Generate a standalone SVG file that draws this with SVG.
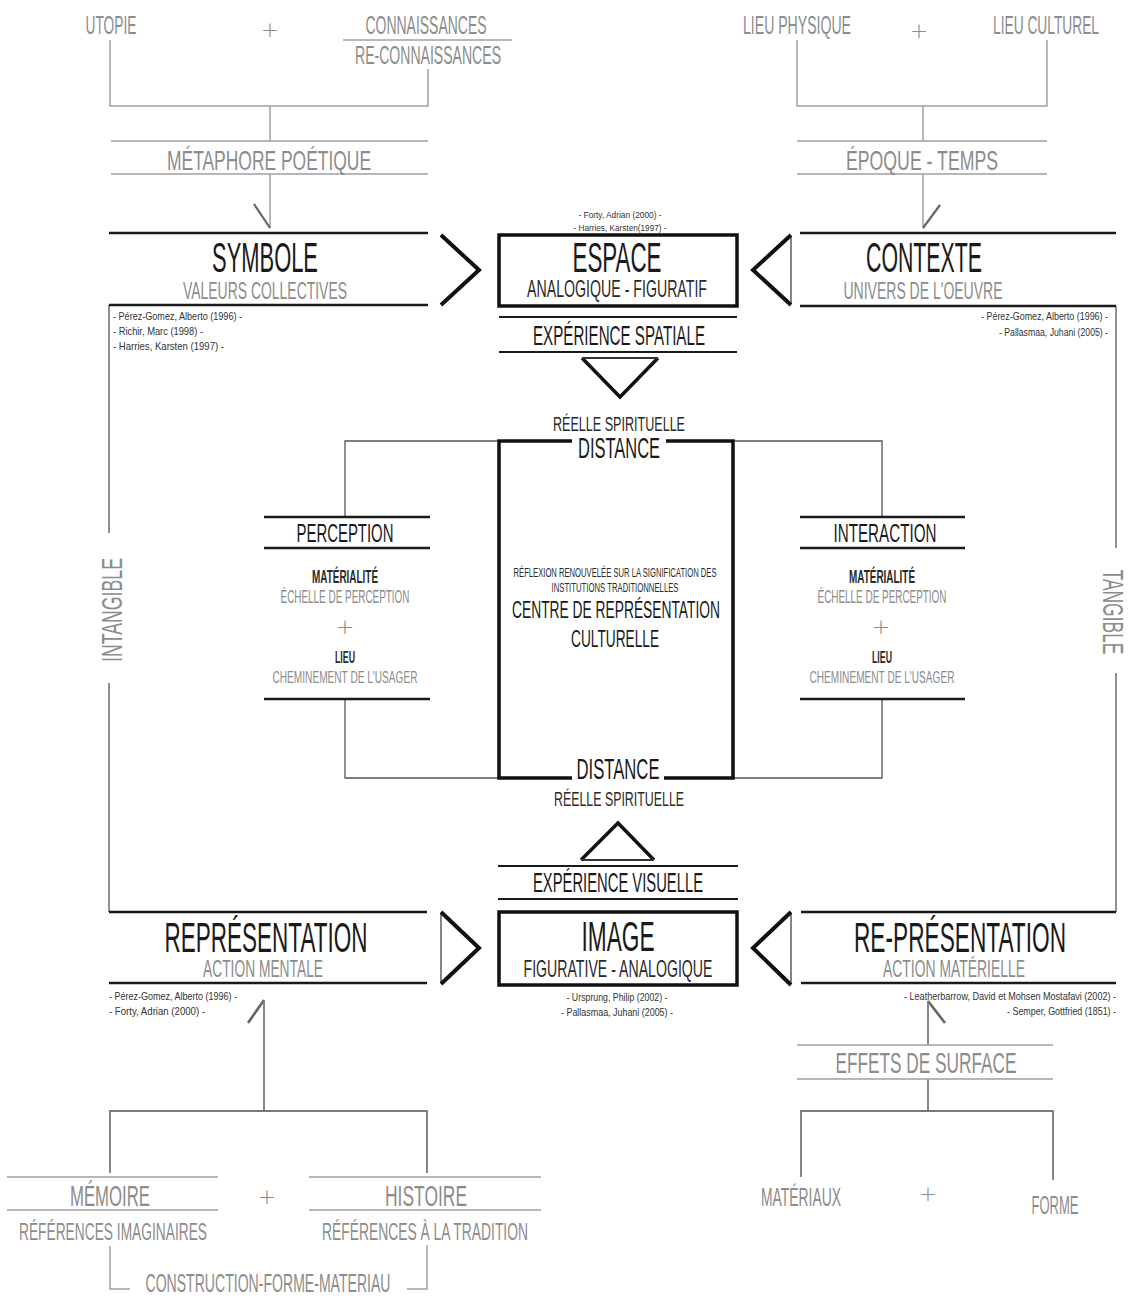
<svg xmlns="http://www.w3.org/2000/svg" width="1128" height="1298" viewBox="0 0 1128 1298">
<style>
text{font-family:"Liberation Sans","DejaVu Sans",sans-serif;text-anchor:middle}
.g{fill:#8c8c8c}
.k{fill:#1a1a1a}
.d{fill:#2a2a2a}
.ref{fill:#333;font-size:11px}
.l{text-anchor:start}
.r{text-anchor:end}
.plus{font-family:"DejaVu Sans",sans-serif;font-weight:200;fill:#8c8c8c;font-size:22px}
.cg{fill:none;stroke:#a0a0a0;stroke-width:1.5}
.cm{fill:none;stroke:#7a7a7a;stroke-width:1.8}
.cd{fill:none;stroke:#555;stroke-width:1.3}
.ar{fill:none;stroke:#666;stroke-width:2.2}
.bk{fill:none;stroke:#1a1a1a;stroke-width:2.5}
.bx{fill:none;stroke:#111;stroke-width:3.5}
.ch{fill:none;stroke:#111;stroke-width:4;stroke-linejoin:miter}
.tn{fill:none;stroke:#333;stroke-width:1.2}
</style>
<rect width="1128" height="1298" fill="#fff"/>

<g id="connectors">
  <path class="cg" d="M343,40 H512"/>
  <path class="cg" d="M110,40 V106 H428 V69"/>
  <path class="cg" d="M270,106 V141"/>
  <path class="cg" d="M270,174 V228"/>
  <path class="ar" d="M254,204 L270,228"/>
  <path class="cg" d="M797,40 V106 H1047 V40"/>
  <path class="cg" d="M923,106 V141"/>
  <path class="cg" d="M923,174 V228"/>
  <path class="ar" d="M940,205 L923,228"/>
  <path class="cd" d="M109,305 V533 M109,683 V912"/>
  <path class="cd" d="M1116,306 V548 M1116,673 V912"/>
  <path class="ch" d="M441,235 L479,270 L441,305"/>
  <path class="ch" d="M791,235 L753,270 L791,305"/>
  <path class="tn" d="M791,237 V303"/>
  <path class="ch" d="M441,912 L479,948 L441,984"/>
  <path class="tn" d="M441,914 V982"/>
  <path class="ch" d="M791,912 L753,948 L791,985"/>
  <path class="tn" d="M791,914 V983"/>
  <path class="ch" d="M582,358 L620,397 L658,358" style="stroke-width:3.5"/>
  <path class="tn" d="M582,358 H658" style="stroke-width:1.8"/>
  <path class="ch" d="M581,860 L618,823 L654,860" style="stroke-width:3.5"/>
  <path class="tn" d="M581,860 H654" style="stroke-width:1.8"/>
  <path class="cd" d="M345,517 V441 H499"/>
  <path class="cd" d="M882,517 V441 H733"/>
  <path class="cd" d="M345,699 V778 H499"/>
  <path class="cd" d="M882,699 V778 H733"/>
  <path class="ar" d="M248,1023 L264,1000" style="stroke-width:2.6"/>
  <path class="cm" d="M264,1000 V1111"/>
  <path class="cm" d="M110,1173 V1111 H427 V1173"/>
  <path class="cg" d="M110,1246 V1289 H130 M407,1289 H427 V1245"/>
  <path class="ar" d="M945,1023 L928,1001" style="stroke-width:2.6"/>
  <path class="cm" d="M928,1001 V1045"/>
  <path class="cm" d="M928,1079 V1111"/>
  <path class="cm" d="M801,1177 V1111 H1053 V1180"/>
</g>

<g id="utopie"><text class="g" transform="translate(111,34) scale(0.55,1)" font-size="25" textLength="92.7" lengthAdjust="spacingAndGlyphs">UTOPIE</text></g>
<g id="plus-top-left"><text class="plus" x="270" y="37">+</text></g>
<g id="connaissances">
  <text class="g" transform="translate(426,34) scale(0.55,1)" font-size="25" textLength="220" lengthAdjust="spacingAndGlyphs">CONNAISSANCES</text>
  <text class="g" transform="translate(428,64) scale(0.55,1)" font-size="25" textLength="265.5" lengthAdjust="spacingAndGlyphs">RE-CONNAISSANCES</text>
</g>
<g id="metaphore">
  <path class="cg" d="M111,141 H428 M111,174 H428"/>
  <text class="g" transform="translate(269,170) scale(0.55,1)" font-size="27.5" textLength="371" lengthAdjust="spacingAndGlyphs">MÉTAPHORE POÉTIQUE</text>
</g>
<g id="lieu-physique"><text class="g" transform="translate(797,34) scale(0.55,1)" font-size="25" textLength="196.4" lengthAdjust="spacingAndGlyphs">LIEU PHYSIQUE</text></g>
<g id="plus-top-right"><text class="plus" x="919" y="38">+</text></g>
<g id="lieu-culturel"><text class="g" transform="translate(1046,34) scale(0.55,1)" font-size="25" textLength="192.7" lengthAdjust="spacingAndGlyphs">LIEU CULTUREL</text></g>
<g id="epoque">
  <path class="cg" d="M797,141 H1047 M797,174 H1047"/>
  <text class="g" transform="translate(922,170) scale(0.55,1)" font-size="27.5" textLength="276.4" lengthAdjust="spacingAndGlyphs">ÉPOQUE - TEMPS</text>
</g>

<g id="symbole">
  <path class="bk" d="M109,233 H428 M109,305 H428"/>
  <text class="k" transform="translate(265,272) scale(0.55,1)" font-size="42" textLength="192.7" lengthAdjust="spacingAndGlyphs">SYMBOLE</text>
  <text class="g" transform="translate(265,299) scale(0.55,1)" font-size="24" textLength="298.2" lengthAdjust="spacingAndGlyphs">VALEURS COLLECTIVES</text>
  <text class="ref l" transform="translate(113,320) scale(0.75,1)" textLength="172" lengthAdjust="spacingAndGlyphs">- Pérez-Gomez, Alberto (1996) -</text>
  <text class="ref l" transform="translate(113,335) scale(0.75,1)" textLength="120" lengthAdjust="spacingAndGlyphs">- Richir, Marc (1998) -</text>
  <text class="ref l" transform="translate(113,350) scale(0.75,1)" textLength="148" lengthAdjust="spacingAndGlyphs">- Harries, Karsten (1997) -</text>
</g>

<g id="espace">
  <text class="ref" transform="translate(620,218) scale(0.75,1)" style="font-size:9.5px" textLength="110.7" lengthAdjust="spacingAndGlyphs">- Forty, Adrian (2000) -</text>
  <text class="ref" transform="translate(620,231) scale(0.75,1)" style="font-size:9.5px" textLength="124" lengthAdjust="spacingAndGlyphs">- Harries, Karsten(1997) -</text>
  <rect class="bx" x="499" y="235" width="238" height="71"/>
  <text class="k" transform="translate(617,272) scale(0.55,1)" font-size="42" textLength="161.8" lengthAdjust="spacingAndGlyphs">ESPACE</text>
  <text class="d" transform="translate(617,297) scale(0.55,1)" font-size="24" textLength="327.3" lengthAdjust="spacingAndGlyphs">ANALOGIQUE - FIGURATIF</text>
</g>
<g id="experience-spatiale">
  <path class="bk" d="M499,317 H737 M499,352 H737" style="stroke-width:2.2"/>
  <text class="k" transform="translate(619,345) scale(0.55,1)" font-size="27.5" textLength="312.7" lengthAdjust="spacingAndGlyphs">EXPÉRIENCE SPATIALE</text>
</g>

<g id="contexte">
  <path class="bk" d="M800,233 H1116 M800,306 H1116"/>
  <text class="k" transform="translate(924,272) scale(0.55,1)" font-size="42" textLength="210.9" lengthAdjust="spacingAndGlyphs">CONTEXTE</text>
  <text class="g" transform="translate(923,299) scale(0.55,1)" font-size="24" textLength="289.1" lengthAdjust="spacingAndGlyphs">UNIVERS DE L'OEUVRE</text>
  <text class="ref r" transform="translate(1108,320) scale(0.75,1)" textLength="169.3" lengthAdjust="spacingAndGlyphs">- Pérez-Gomez, Alberto (1996) -</text>
  <text class="ref r" transform="translate(1108,336) scale(0.75,1)" textLength="145.3" lengthAdjust="spacingAndGlyphs">- Pallasmaa, Juhani (2005) -</text>
</g>

<g id="intangible"><text class="g" transform="translate(112,610) rotate(-90) scale(0.55,1)" x="0" y="10" font-size="30" textLength="189.1" lengthAdjust="spacingAndGlyphs">INTANGIBLE</text></g>
<g id="tangible"><text class="g" transform="translate(1113,612) rotate(90) scale(0.55,1)" x="0" y="10" font-size="30" textLength="154.5" lengthAdjust="spacingAndGlyphs">TANGIBLE</text></g>

<g id="centre">
  <text class="d" transform="translate(619,431) scale(0.55,1)" font-size="21" textLength="240" lengthAdjust="spacingAndGlyphs">RÉELLE SPIRITUELLE</text>
  <path class="bx" d="M572,441 H499 V778 H572 M664,778 H733 V441 H666"/>
  <text class="k" transform="translate(619,458) scale(0.55,1)" font-size="29" textLength="149.1" lengthAdjust="spacingAndGlyphs">DISTANCE</text>
  <text class="d" transform="translate(615,577) scale(0.55,1)" font-size="13" textLength="369.1" lengthAdjust="spacingAndGlyphs">RÉFLEXION RENOUVELÉE SUR LA SIGNIFICATION DES</text>
  <text class="d" transform="translate(615,592) scale(0.55,1)" font-size="13" textLength="230.9" lengthAdjust="spacingAndGlyphs">INSTITUTIONS TRADITIONNELLES</text>
  <text class="k" transform="translate(616,618) scale(0.55,1)" font-size="24" textLength="378.2" lengthAdjust="spacingAndGlyphs">CENTRE DE REPRÉSENTATION</text>
  <text class="k" transform="translate(615,647) scale(0.55,1)" font-size="24" textLength="160" lengthAdjust="spacingAndGlyphs">CULTURELLE</text>
  <text class="k" transform="translate(618,779) scale(0.55,1)" font-size="29" textLength="150.9" lengthAdjust="spacingAndGlyphs">DISTANCE</text>
  <text class="d" transform="translate(619,806) scale(0.55,1)" font-size="21" textLength="236.4" lengthAdjust="spacingAndGlyphs">RÉELLE SPIRITUELLE</text>
</g>

<g id="perception">
  <path class="bk" d="M264,517 H430 M264,548 H430 M264,699 H430"/>
  <text class="k" transform="translate(345,542) scale(0.55,1)" font-size="26" textLength="176.4" lengthAdjust="spacingAndGlyphs">PERCEPTION</text>
  <text class="d" transform="translate(345,583) scale(0.55,1)" font-size="19" font-weight="bold" textLength="120" lengthAdjust="spacingAndGlyphs">MATÉRIALITÉ</text>
  <text class="g" transform="translate(345,603) scale(0.55,1)" font-size="18" textLength="234.5" lengthAdjust="spacingAndGlyphs">ÉCHELLE DE PERCEPTION</text>
  <text class="plus" x="345" y="634">+</text>
  <text class="d" transform="translate(345,663) scale(0.55,1)" font-size="17" font-weight="bold" textLength="36.4" lengthAdjust="spacingAndGlyphs">LIEU</text>
  <text class="g" transform="translate(345,683) scale(0.55,1)" font-size="17" textLength="263.6" lengthAdjust="spacingAndGlyphs">CHEMINEMENT DE L'USAGER</text>
</g>

<g id="interaction">
  <path class="bk" d="M800,517 H965 M800,548 H965 M800,699 H965"/>
  <text class="k" transform="translate(885,542) scale(0.55,1)" font-size="26" textLength="187.3" lengthAdjust="spacingAndGlyphs">INTERACTION</text>
  <text class="d" transform="translate(882,583) scale(0.55,1)" font-size="19" font-weight="bold" textLength="120" lengthAdjust="spacingAndGlyphs">MATÉRIALITÉ</text>
  <text class="g" transform="translate(882,603) scale(0.55,1)" font-size="18" textLength="234.5" lengthAdjust="spacingAndGlyphs">ÉCHELLE DE PERCEPTION</text>
  <text class="plus" x="881" y="634">+</text>
  <text class="d" transform="translate(882,663) scale(0.55,1)" font-size="17" font-weight="bold" textLength="36.4" lengthAdjust="spacingAndGlyphs">LIEU</text>
  <text class="g" transform="translate(882,683) scale(0.55,1)" font-size="17" textLength="263.6" lengthAdjust="spacingAndGlyphs">CHEMINEMENT DE L'USAGER</text>
</g>

<g id="experience-visuelle">
  <path class="bk" d="M498,866 H738 M498,899 H738" style="stroke-width:2.2"/>
  <text class="k" transform="translate(618,892) scale(0.55,1)" font-size="27.5" textLength="309.1" lengthAdjust="spacingAndGlyphs">EXPÉRIENCE VISUELLE</text>
</g>

<g id="image">
  <rect class="bx" x="499" y="912" width="238" height="73"/>
  <text class="k" transform="translate(618,951) scale(0.55,1)" font-size="42" textLength="132.7" lengthAdjust="spacingAndGlyphs">IMAGE</text>
  <text class="d" transform="translate(618,977) scale(0.55,1)" font-size="24" textLength="343.6" lengthAdjust="spacingAndGlyphs">FIGURATIVE - ANALOGIQUE</text>
  <text class="ref" transform="translate(617,1001) scale(0.75,1)" textLength="134.7" lengthAdjust="spacingAndGlyphs">- Ursprung, Philip (2002) -</text>
  <text class="ref" transform="translate(617,1016) scale(0.75,1)" textLength="149.3" lengthAdjust="spacingAndGlyphs">- Pallasmaa, Juhani (2005) -</text>
</g>

<g id="representation">
  <path class="bk" d="M109,912 H427 M109,983 H427"/>
  <text class="k" transform="translate(266,952) scale(0.55,1)" font-size="42" textLength="369.1" lengthAdjust="spacingAndGlyphs">REPRÉSENTATION</text>
  <text class="g" transform="translate(263,977) scale(0.55,1)" font-size="24" textLength="218.2" lengthAdjust="spacingAndGlyphs">ACTION MENTALE</text>
  <text class="ref l" transform="translate(109,1000) scale(0.75,1)" textLength="170.7" lengthAdjust="spacingAndGlyphs">- Pérez-Gomez, Alberto (1996) -</text>
  <text class="ref l" transform="translate(109,1015) scale(0.75,1)" textLength="128" lengthAdjust="spacingAndGlyphs">- Forty, Adrian (2000) -</text>
</g>

<g id="re-presentation">
  <path class="bk" d="M801,912 H1116 M801,983 H1116"/>
  <text class="k" transform="translate(960,952) scale(0.55,1)" font-size="42" textLength="385.5" lengthAdjust="spacingAndGlyphs">RE-PRÉSENTATION</text>
  <text class="g" transform="translate(954,977) scale(0.55,1)" font-size="24" textLength="258.2" lengthAdjust="spacingAndGlyphs">ACTION MATÉRIELLE</text>
  <text class="ref r" transform="translate(1116,1000) scale(0.75,1)" textLength="282.7" lengthAdjust="spacingAndGlyphs">- Leatherbarrow, David et Mohsen Mostafavi (2002) -</text>
  <text class="ref r" transform="translate(1116,1015) scale(0.75,1)" textLength="145.3" lengthAdjust="spacingAndGlyphs">- Semper, Gottfried (1851) -</text>
</g>

<g id="effets">
  <path class="cg" d="M797,1045 H1053 M797,1079 H1053"/>
  <text class="g" transform="translate(926,1073) scale(0.55,1)" font-size="29" textLength="329.1" lengthAdjust="spacingAndGlyphs">EFFETS DE SURFACE</text>
</g>
<g id="materiaux"><text class="g" transform="translate(801,1206) scale(0.55,1)" font-size="25" textLength="145.5" lengthAdjust="spacingAndGlyphs">MATÉRIAUX</text></g>
<g id="plus-bottom-right"><text class="plus" x="928" y="1201">+</text></g>
<g id="forme"><text class="g" transform="translate(1055,1214) scale(0.55,1)" font-size="25" textLength="85.5" lengthAdjust="spacingAndGlyphs">FORME</text></g>

<g id="memoire">
  <path class="cg" d="M7,1177 H218 M7,1210 H218"/>
  <text class="g" transform="translate(110,1206) scale(0.55,1)" font-size="29" textLength="145.5" lengthAdjust="spacingAndGlyphs">MÉMOIRE</text>
  <text class="g" transform="translate(113,1240) scale(0.55,1)" font-size="23" textLength="341.8" lengthAdjust="spacingAndGlyphs">RÉFÉRENCES IMAGINAIRES</text>
</g>
<g id="plus-bottom-left"><text class="plus" x="267" y="1204">+</text></g>
<g id="histoire">
  <path class="cg" d="M309,1177 H541 M309,1210 H541"/>
  <text class="g" transform="translate(426,1206) scale(0.55,1)" font-size="29" textLength="149.1" lengthAdjust="spacingAndGlyphs">HISTOIRE</text>
  <text class="g" transform="translate(425,1240) scale(0.55,1)" font-size="23" textLength="374.5" lengthAdjust="spacingAndGlyphs">RÉFÉRENCES À LA TRADITION</text>
</g>
<g id="construction"><text class="g" transform="translate(268,1292) scale(0.55,1)" font-size="25" textLength="445.5" lengthAdjust="spacingAndGlyphs">CONSTRUCTION-FORME-MATERIAU</text></g>
</svg>
